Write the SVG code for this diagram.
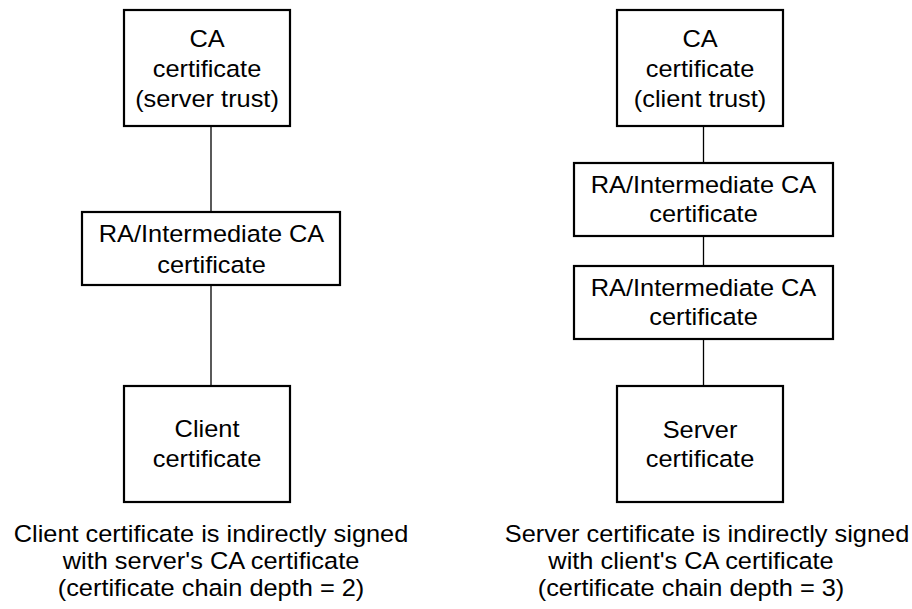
<svg xmlns="http://www.w3.org/2000/svg" width="912" height="609" viewBox="0 0 912 609">
  <style>
    .box { fill: #ffffff; stroke: #000000; stroke-width: 2.2; }
    .link { stroke: #000000; stroke-width: 1.3; fill: none; }
    text { font-family: "Liberation Sans", Arial, Helvetica, sans-serif; font-size: 23.5px; fill: #000000; text-anchor: middle; }
  </style>
  <rect width="912" height="609" fill="#ffffff"/>

  <g id="connectors">
    <line class="link" x1="211" y1="126" x2="211" y2="212"/>
    <line class="link" x1="211" y1="285" x2="211" y2="386"/>
    <line class="link" x1="703.5" y1="126" x2="703.5" y2="163"/>
    <line class="link" x1="703.5" y1="236" x2="703.5" y2="266"/>
    <line class="link" x1="703.5" y1="339" x2="703.5" y2="386"/>
  </g>

  <g id="left-ca">
    <rect class="box" x="124" y="10" width="166" height="116"/>
    <text transform="translate(207,0) scale(1.08,1)"><tspan x="0" y="47">CA</tspan><tspan x="0" y="77">certificate</tspan><tspan x="0" y="107">(server trust)</tspan></text>
  </g>
  <g id="left-ra">
    <rect class="box" x="82" y="212" width="258" height="73"/>
    <text transform="translate(211.5,0) scale(1.08,1)"><tspan x="0" y="242">RA/Intermediate CA</tspan><tspan x="0" y="273">certificate</tspan></text>
  </g>
  <g id="left-client">
    <rect class="box" x="124" y="386" width="166" height="116"/>
    <text transform="translate(207,0) scale(1.08,1)"><tspan x="0" y="437">Client</tspan><tspan x="0" y="467">certificate</tspan></text>
  </g>
  <g id="left-caption">
    <text transform="translate(211,0) scale(1.08,1)"><tspan x="0" y="542">Client certificate is indirectly signed</tspan><tspan x="0" y="569">with server's CA certificate</tspan><tspan x="0" y="596">(certificate chain depth = 2)</tspan></text>
  </g>

  <g id="right-ca">
    <rect class="box" x="617" y="10" width="166" height="116"/>
    <text transform="translate(700,0) scale(1.08,1)"><tspan x="0" y="47">CA</tspan><tspan x="0" y="77">certificate</tspan><tspan x="0" y="107">(client trust)</tspan></text>
  </g>
  <g id="right-ra1">
    <rect class="box" x="574" y="163" width="259" height="73"/>
    <text transform="translate(703.5,0) scale(1.08,1)"><tspan x="0" y="193.5">RA/Intermediate CA</tspan><tspan x="0" y="222">certificate</tspan></text>
  </g>
  <g id="right-ra2">
    <rect class="box" x="574" y="266" width="259" height="73"/>
    <text transform="translate(703.5,0) scale(1.08,1)"><tspan x="0" y="296.5">RA/Intermediate CA</tspan><tspan x="0" y="325">certificate</tspan></text>
  </g>
  <g id="right-server">
    <rect class="box" x="617" y="386" width="166" height="116"/>
    <text transform="translate(700,0) scale(1.08,1)"><tspan x="0" y="438">Server</tspan><tspan x="0" y="467">certificate</tspan></text>
  </g>
  <g id="right-caption">
    <text transform="translate(707,0) scale(1.08,1)"><tspan x="0" y="542">Server certificate is indirectly signed</tspan></text>
    <text transform="translate(691,0) scale(1.08,1)"><tspan x="0" y="569">with client's CA certificate</tspan><tspan x="0" y="596">(certificate chain depth = 3)</tspan></text>
  </g>
</svg>
